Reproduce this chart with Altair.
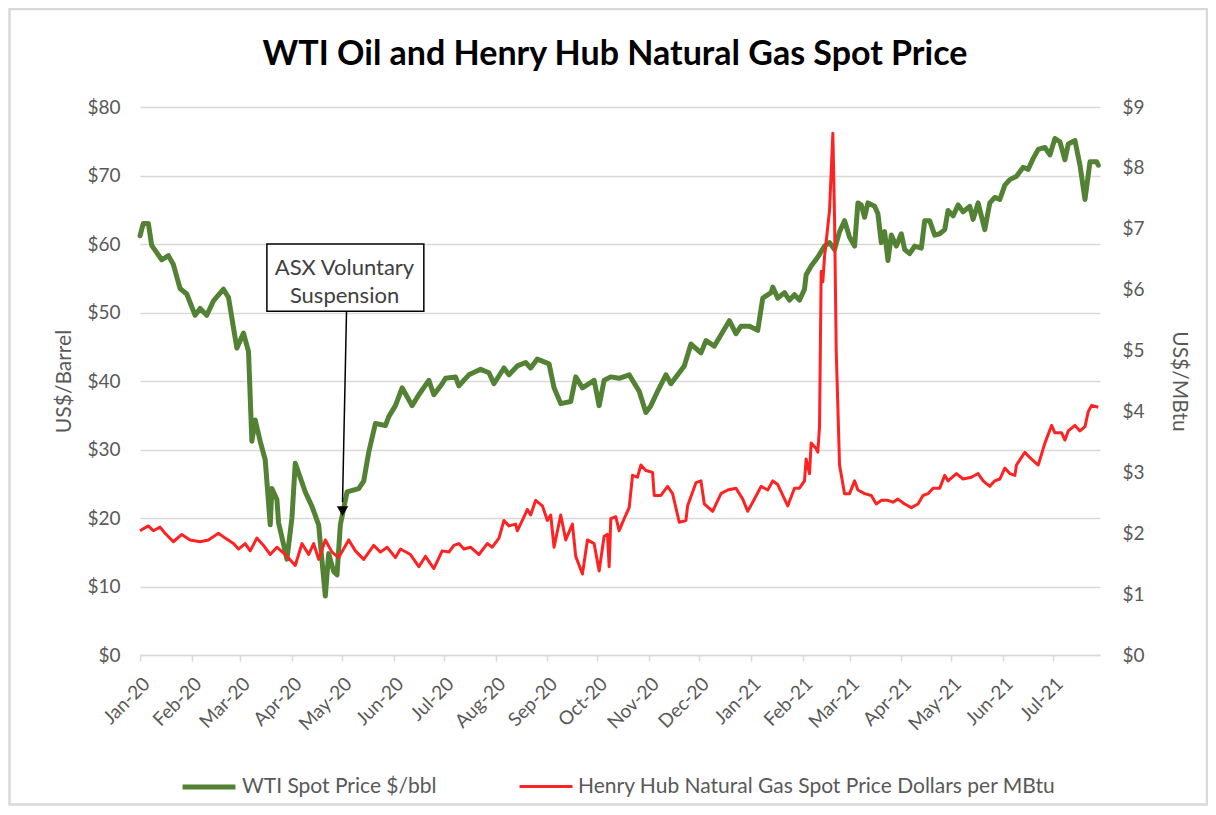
import altair as alt
import pandas as pd

# ---------------- data ----------------
WTI_LABEL = "WTI Spot Price $/bbl"
GAS_LABEL = "Henry Hub Natural Gas Spot Price Dollars per MBtu"

# day offsets from 2020-01-01
wti_days = [0, 2, 5, 7, 13, 17, 20, 24, 28, 33, 36, 40, 44, 50, 53, 58, 62, 65, 67, 69,
            72, 75, 78, 79, 82, 83, 88, 91, 93, 96, 99, 103, 107, 109, 111, 113, 116, 118, 120, 124,
            131, 134, 137, 141, 147, 149, 153, 157, 163, 167, 173, 176, 181, 183, 189, 191, 197, 204, 209, 212,
            218, 221, 226, 231, 234, 238, 245, 248, 252, 258, 261, 265, 272, 275, 278, 282, 287, 293, 299, 303,
            306, 310, 315, 318, 326, 330, 336, 339, 344, 353, 357, 360, 365, 370, 373, 378, 379, 382, 386, 389,
            392, 395, 398, 399, 402, 406, 410, 413, 416, 419, 422, 425, 428, 430, 432, 434, 436, 440, 442, 444,
            446, 448, 450, 453, 456, 458, 461, 464, 468, 470, 473, 476, 479, 482, 484, 487, 490, 493, 497, 499,
            502, 506, 509, 512, 515, 518, 521, 525, 529, 532, 535, 538, 542, 545, 548, 551, 554, 556, 560, 563,
            566, 569, 573, 574]
wti_vals = [61.2, 63.0, 63.0, 59.8, 57.7, 58.3, 57.0, 53.5, 52.7, 49.6, 50.6, 49.6, 51.7, 53.4, 52.2, 44.8, 47.0, 44.3, 31.2, 34.3,
            31.2, 28.5, 19.0, 24.3, 22.7, 19.3, 14.0, 20.0, 28.0, 25.9, 23.8, 21.7, 19.0, 13.8, 8.6, 14.8, 12.2, 11.7, 19.0, 23.8,
            24.3, 25.4, 29.6, 33.8, 33.5, 34.8, 36.4, 39.0, 36.4, 38.0, 40.1, 38.0, 39.6, 40.4, 40.6, 39.3, 40.9, 41.7, 41.2, 39.6,
            41.9, 40.9, 42.2, 42.7, 41.9, 43.2, 42.5, 39.0, 36.7, 37.0, 40.6, 39.0, 40.1, 36.4, 40.1, 40.6, 40.4, 40.9, 38.5, 35.4,
            36.4, 38.5, 40.9, 39.6, 42.2, 45.4, 44.1, 45.9, 45.1, 48.8, 46.9, 48.0, 48.0, 47.4, 52.1, 52.9, 53.7, 52.1, 52.9, 51.8,
            52.6, 51.8, 53.4, 55.5, 56.8, 58.1, 59.7, 60.2, 59.2, 61.8, 63.4, 61.0, 59.7, 66.0, 65.7, 63.9, 66.0, 65.5, 64.4, 60.2,
            61.8, 57.6, 61.3, 59.7, 61.5, 59.2, 58.6, 59.7, 59.4, 63.4, 63.4, 61.3, 61.5, 62.1, 64.9, 64.1, 65.7, 64.7, 65.5, 63.6,
            66.0, 62.1, 66.0, 66.8, 66.5, 68.6, 69.4, 69.9, 71.2, 70.9, 72.5, 73.8, 74.1, 73.0, 75.4, 74.9, 72.3, 74.6, 75.1, 71.5,
            66.5, 72.0, 72.0, 71.5]

gas_days = [0, 5, 8, 12, 15, 20, 25, 30, 36, 41, 47, 51, 56, 59, 63, 66, 70, 74, 78, 82,
            87, 93, 97, 101, 104, 107, 111, 115, 119, 125, 129, 134, 140, 144, 148, 153, 156, 162, 167, 171,
            176, 181, 185, 188, 191, 194, 198, 203, 208, 211, 215, 218, 221, 225, 226, 230, 232, 234, 237, 241,
            244, 246, 248, 252, 255, 259, 261, 265, 268, 272, 275, 278, 280, 281, 282, 285, 287, 290, 293, 295,
            298, 300, 303, 307, 308, 312, 316, 319, 323, 327, 328, 333, 336, 338, 343, 348, 352, 357, 361, 364,
            367, 372, 376, 379, 382, 385, 388, 392, 395, 398, 399, 401, 402, 405, 406, 407, 408, 409, 410, 413,
            415, 416, 417, 419, 422, 425, 428, 430, 434, 438, 441, 444, 448, 451, 454, 458, 462, 466, 469, 472,
            475, 479, 482, 484, 489, 493, 498, 502, 505, 509, 512, 515, 518, 521, 524, 525, 530, 533, 538, 542,
            546, 548, 552, 554, 556, 560, 563, 566, 568, 570, 574]
gas_vals = [2.04, 2.12, 2.04, 2.10, 2.00, 1.86, 1.98, 1.89, 1.86, 1.89, 2.00, 1.92, 1.83, 1.74, 1.83, 1.71, 1.92, 1.80, 1.65, 1.77,
            1.65, 1.47, 1.83, 1.65, 1.83, 1.57, 1.89, 1.69, 1.60, 1.89, 1.71, 1.57, 1.80, 1.69, 1.77, 1.60, 1.74, 1.65, 1.45, 1.62,
            1.42, 1.71, 1.69, 1.80, 1.83, 1.74, 1.77, 1.65, 1.83, 1.77, 1.92, 2.21, 2.12, 2.15, 2.04, 2.27, 2.39, 2.30, 2.54, 2.45,
            2.21, 2.30, 1.77, 2.30, 1.89, 2.15, 1.62, 1.33, 1.89, 1.83, 1.38, 1.95, 1.98, 1.45, 2.24, 2.27, 2.04, 2.24, 2.42, 2.95,
            2.92, 3.12, 3.03, 3.00, 2.62, 2.62, 2.77, 2.65, 2.18, 2.21, 2.45, 2.83, 2.86, 2.48, 2.36, 2.65, 2.71, 2.74, 2.56, 2.36,
            2.51, 2.77, 2.71, 2.86, 2.80, 2.62, 2.45, 2.74, 2.74, 2.86, 3.22, 2.98, 3.48, 3.39, 3.33, 3.75, 6.30, 6.13, 6.54, 7.30,
            8.57, 7.19, 5.01, 3.12, 2.65, 2.65, 2.86, 2.71, 2.65, 2.62, 2.48, 2.54, 2.54, 2.51, 2.56, 2.48, 2.42, 2.48, 2.62, 2.65,
            2.74, 2.74, 2.95, 2.86, 2.98, 2.89, 2.92, 2.98, 2.86, 2.77, 2.86, 2.89, 3.07, 2.98, 2.95, 3.12, 3.33, 3.24, 3.12, 3.48,
            3.77, 3.65, 3.65, 3.53, 3.68, 3.77, 3.68, 3.75, 4.00, 4.10, 4.07]

left_ticks = [0, 10, 20, 30, 40, 50, 60, 70, 80]
right_ticks = [0, 1, 2, 3, 4, 5, 6, 7, 8, 9]
month_ticks = [(2020, m) for m in range(1, 13)] + [(2021, m) for m in range(1, 8)]

# annotation (in data units: day offset / left-axis dollars)
annot_lines = ["ASX Voluntary", "Suspension"]
box_days = (76, 170)
box_vals = (60.0, 50.2)
text_day, text_val = 122.5, 56.5
arrow_from = (123.7, 50.2)
arrow_to = (121.3, 22.3)
tip_val = 21.0

# ---------------- build ----------------
start = pd.Timestamp("2020-01-01")


def d(n):
    return (start + pd.Timedelta(days=float(n))).strftime("%Y-%m-%dT%H:%M:%SZ")


wti_df = pd.DataFrame({"date": [d(x) for x in wti_days], "wti": wti_vals, "series": WTI_LABEL})
gas_df = pd.DataFrame({"date": [d(x) for x in gas_days], "gas": gas_vals, "series": GAS_LABEL})

FONT = "Lato"
GREY = "#595959"
GRID = "#d9d9d9"

xscale = alt.Scale(type="utc", domain=[alt.DateTime(year=2020, month=1, date=1, utc=True),
                                       alt.DateTime(year=2021, month=7, date=29, utc=True)])
xaxis = alt.Axis(values=[alt.DateTime(year=y, month=m, date=1, utc=True) for y, m in month_ticks],
                 labelExpr="utcFormat(datum.value, '%b-%y')", labelAngle=-45, labelAlign="right",
                 labelBaseline="top", labelFontSize=19, labelColor=GREY, labelFont=FONT, labelPadding=13,
                 domainColor=GRID, domainWidth=1.5, tickColor=GRID, tickWidth=1.5, tickSize=6,
                 grid=False, title=None, labelOverlap=False)
yaxis_left = alt.Axis(values=left_ticks, format="$.0f", title="US$/Barrel", labelFontSize=19,
                      labelColor=GREY, labelFont=FONT, titleFont=FONT, titleFontSize=21,
                      titleFontWeight="normal", titleColor=GREY, titlePadding=12, ticks=False,
                      domain=False, labelPadding=20, grid=True, gridColor=GRID, gridWidth=1.5)
yaxis_right = alt.Axis(orient="right", values=right_ticks, format="$.0f", title="US$/MBtu",
                       labelFontSize=19, labelColor=GREY, labelFont=FONT, titleFont=FONT,
                       titleFontSize=21, titleFontWeight="normal", titleColor=GREY,
                       titlePadding=24, ticks=False, domain=False, labelPadding=22, grid=False)

color_scale = alt.Scale(domain=[WTI_LABEL, GAS_LABEL], range=["#548235", "#ff2222"])
sw_scale = alt.Scale(domain=[WTI_LABEL, GAS_LABEL], range=[5, 3])
legend = alt.Legend(title=None, orient="none", legendX=40, legendY=651, direction="horizontal",
                    symbolType="stroke", symbolSize=2800, labelFontSize=21, labelColor=GREY,
                    labelFont=FONT, columnPadding=76, labelOffset=4, labelLimit=800)

yleft = alt.Scale(domain=[0, 80], nice=False)
yright = alt.Scale(domain=[0, 9], nice=False)

X = lambda f: alt.X(f, scale=xscale, axis=xaxis)
YL = lambda f: alt.Y(f, scale=yleft, axis=yaxis_left)

wti_line = alt.Chart(wti_df).mark_line(strokeJoin="round", strokeCap="round").encode(
    x=X("date:T"), y=YL("wti:Q"),
    color=alt.Color("series:N", scale=color_scale, legend=legend),
    strokeWidth=alt.StrokeWidth("series:N", scale=sw_scale, legend=legend),
)

box_df = pd.DataFrame({"date": [d(box_days[0])], "d2": [d(box_days[1])], "wti": [box_vals[0]], "v2": [box_vals[1]]})
box = alt.Chart(box_df).mark_rect(fill="white", stroke="black", strokeWidth=1.5).encode(
    x=X("date:T"), x2="d2:T", y=YL("wti:Q"), y2="v2:Q")

text_df = pd.DataFrame({"date": [d(text_day)], "wti": [text_val]})
text = alt.Chart(text_df).mark_text(text=annot_lines, fontSize=22, font=FONT, color="#404040",
                                    lineHeight=28, baseline="middle", align="center").encode(
    x=X("date:T"), y=YL("wti:Q"))

arrow_df = pd.DataFrame({"date": [d(arrow_from[0])], "d2": [d(arrow_to[0])],
                         "wti": [arrow_from[1]], "v2": [arrow_to[1]]})
arrow = alt.Chart(arrow_df).mark_rule(color="black", strokeWidth=1.5).encode(
    x=X("date:T"), x2="d2:T", y=YL("wti:Q"), y2="v2:Q")

tip_df = pd.DataFrame({"date": [d(arrow_to[0])], "wti": [tip_val]})
tip = alt.Chart(tip_df).mark_point(shape="triangle-down", filled=True, color="black", size=130,
                                   opacity=1).encode(x=X("date:T"), y=YL("wti:Q"))

gas_line = alt.Chart(gas_df).mark_line(strokeJoin="round").encode(
    x=X("date:T"),
    y=alt.Y("gas:Q", scale=yright, axis=yaxis_right),
    color=alt.Color("series:N", scale=color_scale, legend=legend),
    strokeWidth=alt.StrokeWidth("series:N", scale=sw_scale, legend=legend),
)

# light grey frame around the whole chart (pixel offsets relative to the plot area)
border = alt.Chart(alt.Data(values=[{"k": 1}])).mark_rect(
    fill="transparent", stroke=GRID, strokeWidth=2.5).encode(
    x=alt.value(-130.5), x2=alt.value(1067), y=alt.value(-98), y2=alt.value(697.5))

left_group = alt.layer(wti_line, box, text, arrow, tip)

chart = alt.layer(border, left_group, gas_line).resolve_scale(y="independent").properties(
    width=960, height=548,
    autosize=alt.AutoSizeParams(type="none"),
    padding={"left": 132, "top": 99, "right": 108, "bottom": 152},
    title=alt.TitleParams("WTI Oil and Henry Hub Natural Gas Spot Price", font=FONT, fontSize=34,
                          fontWeight="bold", color="black", anchor="middle", frame="group",
                          offset=-64, dx=-5),
    background="white",
).configure_view(stroke=None)

chart.save("out.html", embed_options={"renderer": "svg", "actions": False})
